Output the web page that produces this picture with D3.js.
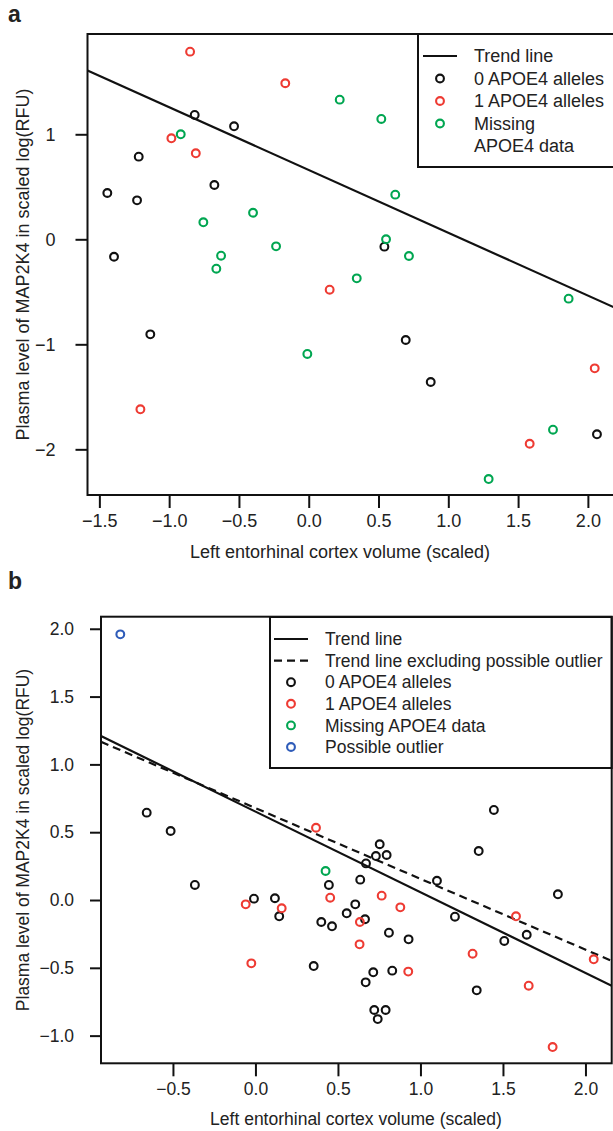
<!DOCTYPE html>
<html>
<head>
<meta charset="utf-8">
<script src="https://cdn.jsdelivr.net/npm/d3@7"></script>
<style>
  body { margin: 0; background: #fff; }
  text { font-family: "Liberation Sans", Arial, sans-serif; fill: #222; }
</style>
</head>
<body>
<svg id="viz"></svg>
<script>
// panel a data: scaled entorhinal volume (x) vs scaled MAP2K4 level (y)
var aZeroX = [-0.817, -0.535, -1.218, -0.676, -1.443, -1.230, -1.395, 0.542, -1.135, 0.695, 0.874, 2.065];
var aZeroY = [1.184, 1.076, 0.787, 0.517, 0.441, 0.371, -0.166, -0.070, -0.905, -0.959, -1.359, -1.857];
var aOneX = [-0.850, -0.168, -0.984, -0.809, 0.150, -1.206, 2.049, 1.583];
var aOneY = [1.787, 1.486, 0.962, 0.819, -0.480, -1.619, -1.229, -1.947];
var aMissX = [0.222, -0.917, -0.399, -0.755, -0.234, -0.628, -0.662, 0.520, 0.620, 0.554, 0.718, 0.344, -0.010, 1.862, 1.750, 1.289];
var aMissY = [1.330, 1.000, 0.253, 0.162, -0.067, -0.156, -0.280, 1.146, 0.425, 0.000, -0.159, -0.372, -1.092, -0.565, -1.813, -2.283];
var aTrend = {intercept: 0.66, slope: -0.598};

// panel b data
var bZeroX = [-0.659, -0.514, 1.445, -0.367, 0.445, -0.009, 0.118, 0.144, 0.553, 0.399, 0.464, 0.353,
  0.753, 0.730, 0.795, 0.670, 1.353, 0.635, 1.100, 1.833, 0.605, 1.209, 0.664, 0.809, 1.644, 0.928,
  1.508, 0.714, 0.829, 0.668, 1.341, 0.720, 0.789, 0.741];
var bZeroY = [0.644, 0.509, 0.664, 0.111, 0.111, 0.010, 0.013, -0.120, -0.098, -0.162, -0.194, -0.487,
  0.411, 0.324, 0.332, 0.270, 0.361, 0.150, 0.142, 0.042, -0.032, -0.123, -0.142, -0.241, -0.256, -0.290,
  -0.302, -0.533, -0.521, -0.607, -0.666, -0.811, -0.811, -0.878];
var bOneX = [0.367, 0.453, -0.059, 0.159, -0.025, 0.765, 0.878, 1.579, 0.633, 0.631, 1.316, 2.050, 0.926, 1.656, 1.801];
var bOneY = [0.533, 0.017, -0.032, -0.061, -0.467, 0.032, -0.054, -0.120, -0.162, -0.327, -0.396, -0.437, -0.528, -0.632, -1.084];
var bMissX = [0.425];
var bMissY = [0.214];
var bOutX = [-0.819];
var bOutY = [1.959];
var bTrend = {intercept: 0.652, slope: -0.595};
var bTrendNoOut = {intercept: 0.678, slope: -0.522};

// tick values
var aXTicks = [-1.5, -1.0, -0.5, 0.0, 0.5, 1.0, 1.5, 2.0];
var aYTicks = [-2, -1, 0, 1];
var bXTicks = [-0.5, 0.0, 0.5, 1.0, 1.5, 2.0];
var bYTicks = [-1.0, -0.5, 0.0, 0.5, 1.0, 1.5, 2.0];

var colors = {zero: "#111111", one: "#ee3b33", miss: "#00a651", out: "#2f5cb9"};
var xTitle = "Left entorhinal cortex volume (scaled)";
var yTitle = "Plasma level of MAP2K4 in scaled log(RFU)";

var width = 613, height = 1131;
var svg = d3.select("#viz").attr("width", width).attr("height", height);

// turn "-1.5" into "−1.5"
function fmt(digits) {
  return function(d) { return d3.format("." + digits + "f")(d).replace("-", "\u2212"); };
}

function zip(xs, ys) {
  return xs.map(function(x, i) { return {x: x, y: ys[i]}; });
}

// draws one scatter panel
function drawPanel(cfg) {
  var g = svg.append("g");
  var x = cfg.x, y = cfg.y;
  var x0 = x.range()[0], x1 = x.range()[1], y0 = y.range()[1], y1 = y.range()[0];

  var clipId = "clip-" + cfg.letter;
  g.append("clipPath").attr("id", clipId)
    .append("rect").attr("x", x0).attr("y", y0).attr("width", x1 - x0).attr("height", y1 - y0);

  // axes
  var xAxis = g.append("g").attr("transform", "translate(0," + y1 + ")")
    .call(d3.axisBottom(x).tickValues(cfg.xTicks).tickFormat(fmt(1)).tickSize(13).tickSizeOuter(0).tickPadding(6));
  var yAxis = g.append("g").attr("transform", "translate(" + x0 + ",0)")
    .call(d3.axisLeft(y).tickValues(cfg.yTicks).tickFormat(fmt(cfg.yDigits)).tickSize(cfg.yTick).tickSizeOuter(0).tickPadding(cfg.yPad));
  [xAxis, yAxis].forEach(function(a) {
    a.select(".domain").remove();
    a.selectAll(".tick line").attr("stroke", "#111").attr("stroke-width", 2);
    a.selectAll(".tick text").style("font-size", cfg.font + "px").attr("fill", "#222");
  });

  // trend lines
  var plot = g.append("g").attr("clip-path", "url(#" + clipId + ")");
  cfg.trends.forEach(function(t) {
    var dom = x.domain();
    plot.append("line")
      .attr("x1", x(dom[0])).attr("y1", y(t.intercept + t.slope * dom[0]))
      .attr("x2", x(dom[1])).attr("y2", y(t.intercept + t.slope * dom[1]))
      .attr("stroke", "#111").attr("stroke-width", 2.2)
      .attr("stroke-dasharray", t.dash || null);
  });

  // points
  cfg.series.forEach(function(s) {
    plot.append("g").selectAll("circle")
      .data(zip(s.xs, s.ys))
      .enter().append("circle")
      .attr("cx", function(d) { return x(d.x); })
      .attr("cy", function(d) { return y(d.y); })
      .attr("r", 3.9)
      .attr("fill", "none")
      .attr("stroke", s.color)
      .attr("stroke-width", 2.1);
  });

  // legend
  var L = cfg.legend;
  var lg = g.append("g");
  lg.append("rect").attr("x", L.x).attr("y", L.y).attr("width", L.w).attr("height", L.h)
    .attr("fill", "#fff").attr("stroke", "#111").attr("stroke-width", 2);
  L.items.forEach(function(it, i) {
    var cy = L.y + L.first + i * L.step;
    if (it.type == "line") {
      lg.append("line").attr("x1", L.symX - 17).attr("x2", L.symX + 17)
        .attr("y1", cy).attr("y2", cy)
        .attr("stroke", "#111").attr("stroke-width", 2.2)
        .attr("stroke-dasharray", it.dash || null);
    } else if (it.type == "point") {
      lg.append("circle").attr("cx", L.symX).attr("cy", cy).attr("r", 3.9)
        .attr("fill", "none").attr("stroke", it.color).attr("stroke-width", 2.1);
    }
    lg.append("text").attr("x", L.textX).attr("y", cy).attr("dy", "0.35em")
      .style("font-size", cfg.font + "px").text(it.label);
  });

  // box
  g.append("rect").attr("x", x0).attr("y", y0).attr("width", x1 - x0).attr("height", y1 - y0)
    .attr("fill", "none").attr("stroke", "#111").attr("stroke-width", 2);

  // titles
  g.append("text").attr("x", cfg.xTitleX).attr("y", cfg.xTitleY)
    .attr("text-anchor", "middle").style("font-size", cfg.font + "px").text(xTitle);
  g.append("text")
    .attr("transform", "translate(" + cfg.yTitleX + "," + ((y0 + y1) / 2) + ") rotate(-90)")
    .attr("text-anchor", "middle").style("font-size", cfg.font + "px").text(yTitle);
  g.append("text").attr("x", 8).attr("y", cfg.letterY)
    .style("font-size", "23px").style("font-weight", "bold").attr("fill", "#111").text(cfg.letter);
}

// panel a
drawPanel({
  letter: "a", letterY: 22, font: 18,
  x: d3.scaleLinear().domain([-1.585, 2.2]).range([87.5, 615.8]),
  y: d3.scaleLinear().domain([-2.435, 1.955]).range([495, 34]),
  xTicks: aXTicks, yTicks: aYTicks, yDigits: 0, yTick: 12, yPad: 20,
  xTitleX: 340, xTitleY: 558, yTitleX: 29,
  trends: [aTrend],
  series: [
    {xs: aZeroX, ys: aZeroY, color: colors.zero},
    {xs: aOneX, ys: aOneY, color: colors.one},
    {xs: aMissX, ys: aMissY, color: colors.miss}
  ],
  legend: {
    x: 418, y: 34, w: 210, h: 133, first: 22, step: 22.5, symX: 440, textX: 474,
    items: [
      {type: "line", label: "Trend line"},
      {type: "point", color: colors.zero, label: "0 APOE4 alleles"},
      {type: "point", color: colors.one, label: "1 APOE4 alleles"},
      {type: "point", color: colors.miss, label: "Missing"},
      {type: "none", label: "APOE4 data"}
    ]
  }
});

// panel b
drawPanel({
  letter: "b", letterY: 589, font: 17.5,
  x: d3.scaleLinear().domain([-0.936, 2.159]).range([101, 611.7]),
  y: d3.scaleLinear().domain([-1.204, 2.089]).range([1063.3, 616.7]),
  xTicks: bXTicks, yTicks: bYTicks, yDigits: 1, yTick: 11, yPad: 16,
  xTitleX: 356, xTitleY: 1125, yTitleX: 29,
  trends: [bTrend, Object.assign({dash: "8,5"}, bTrendNoOut)],
  series: [
    {xs: bZeroX, ys: bZeroY, color: colors.zero},
    {xs: bOneX, ys: bOneY, color: colors.one},
    {xs: bMissX, ys: bMissY, color: colors.miss},
    {xs: bOutX, ys: bOutY, color: colors.out}
  ],
  legend: {
    x: 270, y: 617, w: 341.7, h: 151, first: 22, step: 21.6, symX: 291, textX: 325,
    items: [
      {type: "line", label: "Trend line"},
      {type: "line", dash: "8,5", label: "Trend line excluding possible outlier"},
      {type: "point", color: colors.zero, label: "0 APOE4 alleles"},
      {type: "point", color: colors.one, label: "1 APOE4 alleles"},
      {type: "point", color: colors.miss, label: "Missing APOE4 data"},
      {type: "point", color: colors.out, label: "Possible outlier"}
    ]
  }
});
</script>
</body>
</html>
